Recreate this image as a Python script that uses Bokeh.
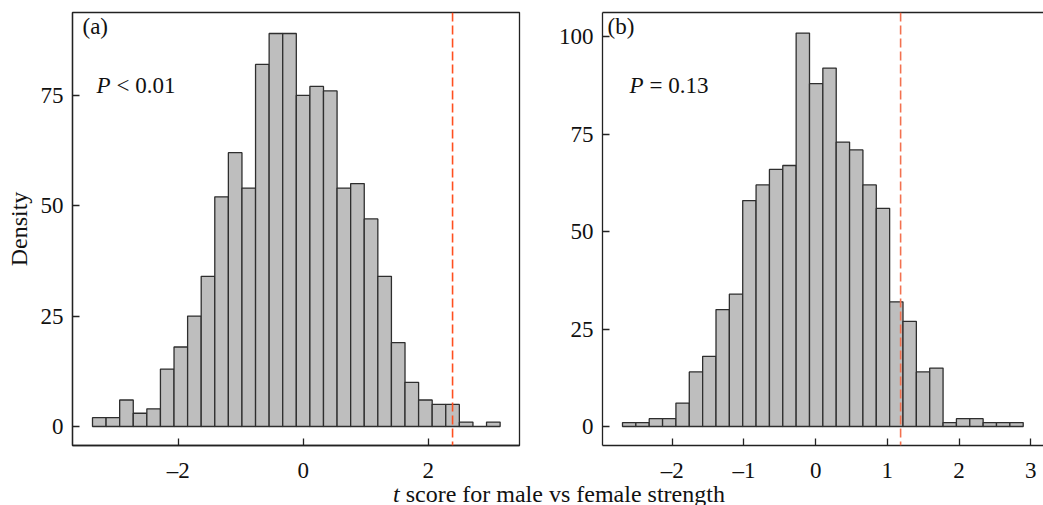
from bokeh.plotting import figure
from bokeh.models import Span, Label, FixedTicker, LinearAxis, Range1d, Div
from bokeh.layouts import row, column
from bokeh.embed import file_html
from bokeh.resources import INLINE

# ---------------- data ----------------
# Panel (a): permutation distribution of t scores (counts per bin, 1000 total)
a_counts = [2, 2, 6, 3, 4, 13, 18, 25, 34, 52, 62, 54, 82, 89, 89,
            75, 77, 76, 54, 55, 47, 34, 19, 10, 6, 5, 5, 1, 0, 1]
a_first_edge = -3.371
a_bin_width = 0.2174
a_observed = 2.39
a_label = "(a)"
a_p_text = "< 0.01"

# Panel (b)
b_counts = [1, 1, 2, 2, 6, 14, 18, 30, 34, 58, 62, 66, 67, 101, 88,
            92, 73, 71, 62, 56, 32, 27, 14, 15, 1, 2, 2, 1, 1, 1]
b_first_edge = -2.694
b_bin_width = 0.1863
b_observed = 1.185
b_label = "(b)"
b_p_text = "= 0.13"

a_xticks = [-2, 0, 2]
a_yticks = [0, 25, 50, 75]
b_xticks = [-2, -1, 0, 1, 2, 3]
b_yticks = [0, 25, 50, 75, 100]

x_title_italic = "t"
x_title_rest = " score for male vs female strength"
y_title = "Density"

FONT = "Liberation Serif"
TICK_FS = "23px"
LAB_FS = "24px"
FRAME_COLOR = "#222222"
BAR_FILL = "#BEBEBE"
BAR_LINE = "#2E2E2E"

TOP = 12
FRAME_H = 433
BOTTOM = 40


def minus_overrides(ticks):
    return {t: ("\u2013%d" % abs(t)) for t in ticks if t < 0}


def make_panel(counts, first_edge, bw, observed, xr, yr, xticks, yticks,
               width, border_left, border_right, line_color, tag, ptext,
               tag_dx, p_dx, right_outline=True):
    p = figure(width=width, height=TOP + FRAME_H + BOTTOM,
               x_range=Range1d(*xr), y_range=Range1d(*yr),
               output_backend="svg", toolbar_location=None,
               min_border_left=border_left, min_border_right=border_right,
               min_border_top=TOP, min_border_bottom=BOTTOM,
               background_fill_color="white", border_fill_color="white")
    p.xgrid.visible = False
    p.ygrid.visible = False

    lefts = [first_edge + i * bw for i in range(len(counts))]
    rights = [l + bw for l in lefts]
    p.quad(left=lefts, right=rights, bottom=0, top=counts,
           fill_color=BAR_FILL, line_color=BAR_LINE, line_width=1.3)

    p.add_layout(Span(location=observed, dimension="height",
                      line_color=line_color, line_dash="9 4", line_width=1.6))

    for ax, ticks in ((p.xaxis[0], xticks), (p.yaxis[0], yticks)):
        ax.ticker = FixedTicker(ticks=ticks)
        ax.major_label_overrides = minus_overrides(ticks)
        ax.major_tick_in = 7
        ax.major_tick_out = 0
        ax.minor_tick_line_color = None
        ax.axis_line_color = FRAME_COLOR
        ax.axis_line_width = 1.3
        ax.major_tick_line_color = FRAME_COLOR
        ax.major_tick_line_width = 1.3
        ax.major_label_text_font = FONT
        ax.major_label_text_font_size = TICK_FS
        ax.major_label_text_color = "#111111"
    p.xaxis[0].major_label_standoff = 12
    p.yaxis[0].major_label_standoff = 9

    if right_outline:
        p.outline_line_color = FRAME_COLOR
        p.outline_line_width = 1.3
        p.outline_line_alpha = 1.0
    else:
        p.outline_line_color = None
        top = LinearAxis(ticker=FixedTicker(ticks=[]),
                         major_label_text_font_size="0px",
                         major_label_standoff=0, major_tick_in=0,
                         major_tick_out=0, minor_tick_in=0, minor_tick_out=0,
                         axis_line_color=FRAME_COLOR, axis_line_width=1.3)
        p.add_layout(top, "above")

    # helpers: pixel offsets inside frame -> data coords
    frame_w = width - border_left - border_right
    sx = frame_w / (xr[1] - xr[0])
    sy = FRAME_H / (yr[1] - yr[0])

    def X(dx):
        return xr[0] + dx / sx

    def Y(dy_from_top):
        return yr[1] - dy_from_top / sy

    p.add_layout(Label(x=X(tag_dx), y=Y(26), text=tag, text_font=FONT,
                       text_font_size="23px", text_color="#111111"))
    p.add_layout(Label(x=X(p_dx), y=Y(85), text="P", text_font=FONT,
                       text_font_style="italic", text_font_size="23px",
                       text_color="#111111"))
    p.add_layout(Label(x=X(p_dx + 20), y=Y(85), text=ptext, text_font=FONT,
                       text_font_size="23px", text_color="#111111"))
    return p


# panel (a): page frame 72 -> 519, zero at 303, 62.5 px / unit
p1 = make_panel(a_counts, a_first_edge, a_bin_width, a_observed,
                (-3.691, 3.461), (-4.305, 93.75), a_xticks, a_yticks,
                width=540, border_left=72, border_right=21,
                line_color="#FF4F1F", tag=a_label, ptext=a_p_text,
                tag_dx=10, p_dx=24, right_outline=True)
p1.yaxis[0].axis_label = y_title
p1.yaxis[0].axis_label_text_font = FONT
p1.yaxis[0].axis_label_text_font_size = LAB_FS
p1.yaxis[0].axis_label_text_font_style = "normal"
p1.yaxis[0].axis_label_text_color = "#111111"
p1.yaxis[0].axis_label_standoff = 6

# panel (b): page frame 602 -> 1043, zero at 815, 71.75 px / unit
p2 = make_panel(b_counts, b_first_edge, b_bin_width, b_observed,
                (-2.973, 3.178), (-4.88, 106.27), b_xticks, b_yticks,
                width=503, border_left=62, border_right=0,
                line_color="#F3714F", tag=b_label, ptext=b_p_text,
                tag_dx=5, p_dx=27, right_outline=False)

title = Div(text="<i>%s</i>%s" % (x_title_italic, x_title_rest),
            width=1043, height=20,
            styles={"font-family": FONT, "font-size": "24px",
                    "line-height": "8px", "text-align": "left",
                    "text-indent": "388px", "white-space": "nowrap",
                    "overflow": "visible", "color": "#111111"})

layout = column(row(p1, p2), title)

open("out.html", "w").write(file_html(layout, INLINE))
